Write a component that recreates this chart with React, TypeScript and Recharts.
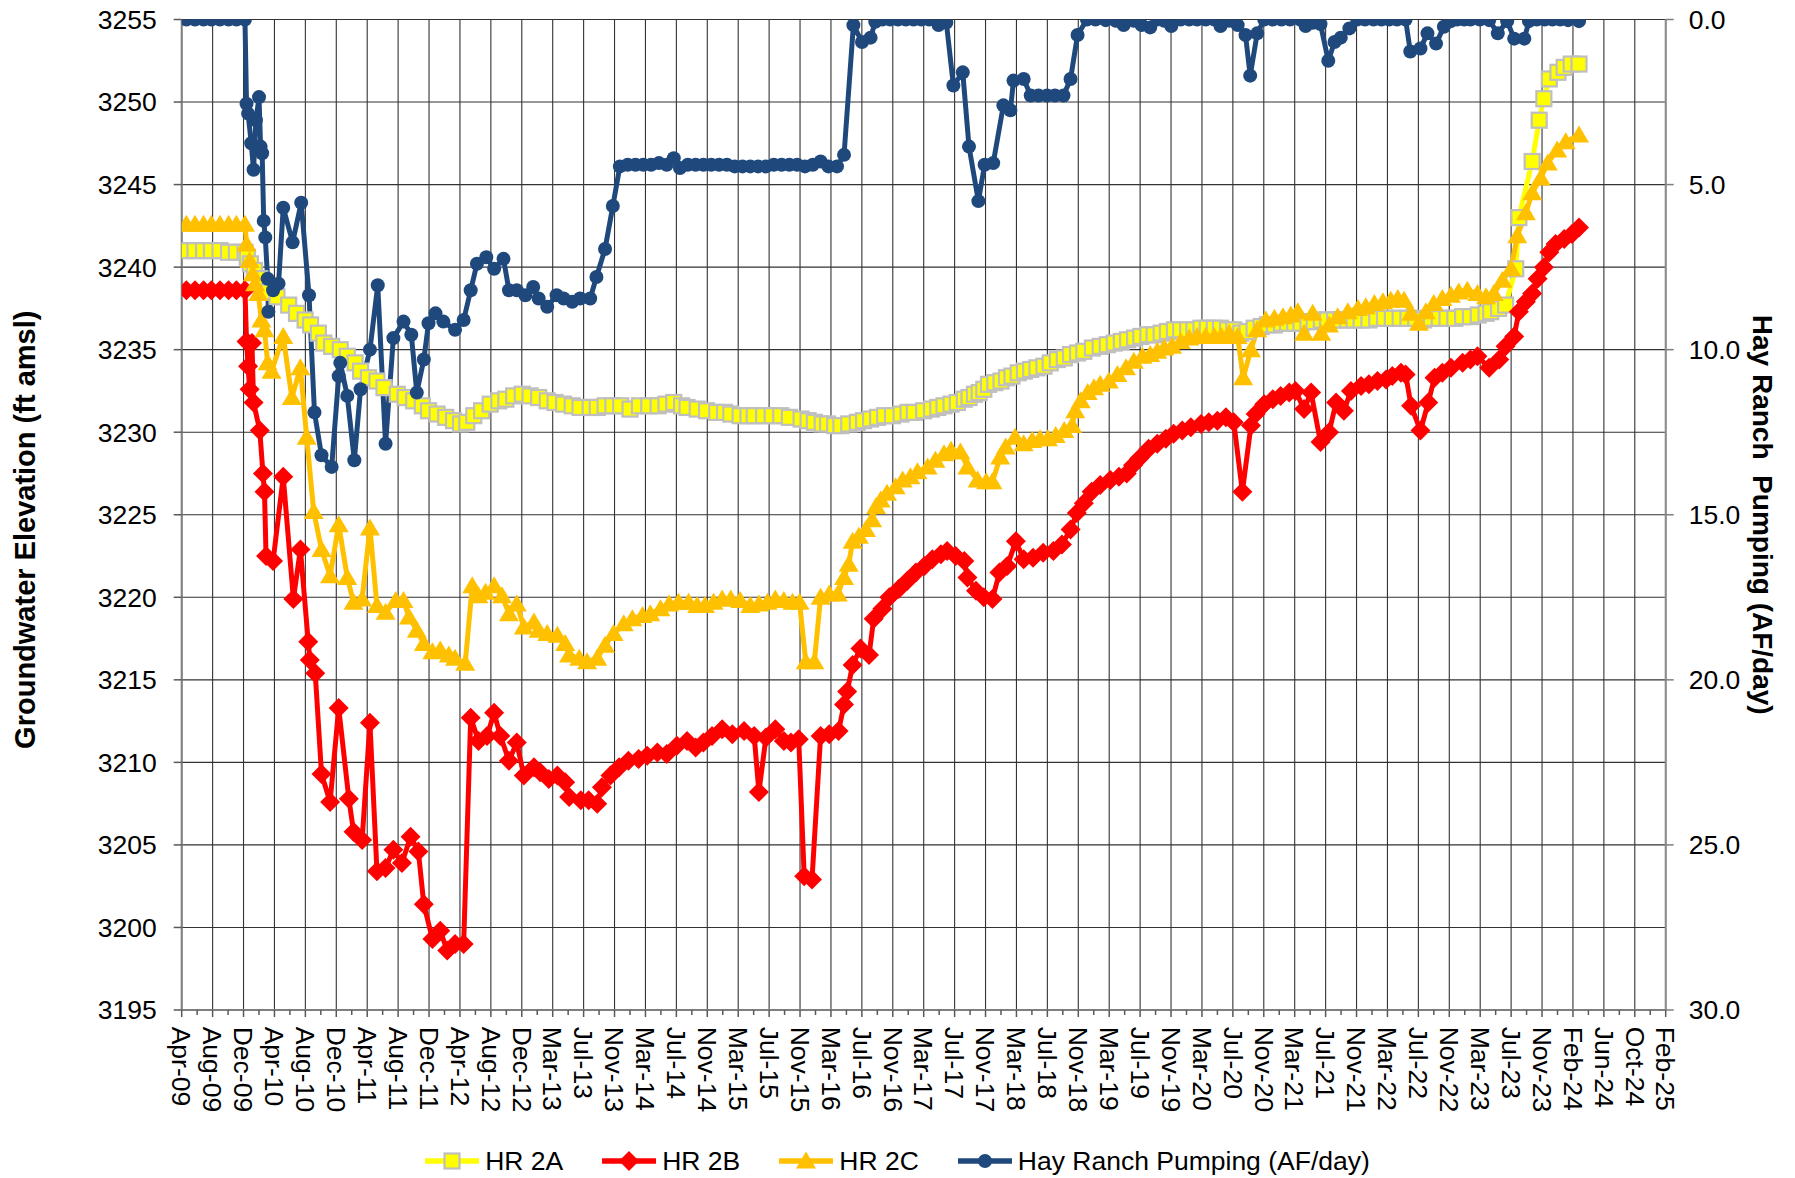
import React from "react";
import { CartesianGrid, Legend, Line, LineChart, XAxis, YAxis } from "recharts";

// x values below are months since 1 Apr 2009
const xLabels = [
  "Apr-09", "Aug-09", "Dec-09", "Apr-10", "Aug-10", "Dec-10", "Apr-11", "Aug-11", "Dec-11",
  "Apr-12", "Aug-12", "Dec-12", "Mar-13", "Jul-13", "Nov-13", "Mar-14", "Jul-14", "Nov-14",
  "Mar-15", "Jul-15", "Nov-15", "Mar-16", "Jul-16", "Nov-16", "Mar-17", "Jul-17", "Nov-17",
  "Mar-18", "Jul-18", "Nov-18", "Mar-19", "Jul-19", "Nov-19", "Mar-20", "Jul-20", "Nov-20",
  "Mar-21", "Jul-21", "Nov-21", "Mar-22", "Jul-22", "Nov-22", "Mar-23", "Jul-23", "Nov-23",
  "Feb-24", "Jun-24", "Oct-24", "Feb-25",
];
const elevTicks = [3195, 3200, 3205, 3210, 3215, 3220, 3225, 3230, 3235, 3240, 3245, 3250, 3255];
const pumpTicks = [0, 5, 10, 15, 20, 25, 30];

// [month, groundwater elevation ft amsl]
const hr2a: [number, number][] = [
  [0.6, 3241.0], [1.7, 3241.0], [2.8, 3241.0], [3.8, 3241.0], [4.9, 3241.0], [6.0, 3240.9], [7.0, 3240.9], [8.1, 3240.9],
  [8.4, 3240.6], [8.8, 3240.2], [9.3, 3239.8], [10.0, 3239.3], [10.6, 3238.8], [11.2, 3238.5], [12.2, 3238.2], [13.7, 3237.7],
  [14.7, 3237.2], [15.8, 3236.8], [16.5, 3236.5], [17.5, 3236.0], [18.2, 3235.4], [19.2, 3235.2], [20.3, 3235.0], [21.2, 3234.6],
  [22.2, 3234.2], [22.9, 3233.7], [23.9, 3233.3], [25.0, 3233.1], [25.9, 3232.7], [27.6, 3232.3], [28.6, 3232.1], [29.7, 3231.9],
  [30.8, 3231.6], [31.6, 3231.3], [32.7, 3231.1], [33.8, 3230.9], [34.8, 3230.7], [35.7, 3230.5], [36.5, 3230.6], [37.4, 3231.0],
  [38.4, 3231.3], [39.5, 3231.7], [40.6, 3231.9], [41.5, 3232.0], [42.5, 3232.2], [43.6, 3232.3], [44.6, 3232.2], [45.7, 3232.1],
  [46.8, 3231.9], [47.8, 3231.8], [48.9, 3231.7], [50.0, 3231.6], [51.0, 3231.5], [52.3, 3231.5], [53.2, 3231.5], [54.2, 3231.6],
  [55.2, 3231.6], [56.2, 3231.6], [57.4, 3231.4], [58.6, 3231.6], [59.8, 3231.6], [61.0, 3231.6], [62.0, 3231.7], [63.0, 3231.8],
  [64.0, 3231.6], [64.7, 3231.5], [66.0, 3231.4], [67.2, 3231.3], [68.5, 3231.2], [69.5, 3231.2], [70.3, 3231.1], [71.5, 3231.0],
  [72.5, 3231.0], [73.3, 3231.0], [74.5, 3231.0], [75.6, 3231.0], [76.7, 3231.0], [77.8, 3230.9], [79.3, 3230.8], [80.2, 3230.7],
  [81.0, 3230.6], [82.0, 3230.5], [82.7, 3230.5], [83.6, 3230.4], [84.4, 3230.4], [85.4, 3230.5], [86.5, 3230.6], [87.3, 3230.7],
  [88.2, 3230.8], [89.1, 3230.9], [90.0, 3231.0], [91.0, 3231.0], [92.1, 3231.1], [93.0, 3231.2], [93.8, 3231.2], [95.0, 3231.3],
  [96.0, 3231.4], [96.8, 3231.5], [97.6, 3231.6], [98.5, 3231.7], [99.3, 3231.8], [100.2, 3232.0], [100.8, 3232.1], [101.5, 3232.3],
  [102.1, 3232.4], [102.7, 3232.6], [103.3, 3232.9], [104.1, 3233.0], [104.9, 3233.1], [105.6, 3233.3], [106.3, 3233.4], [107.1, 3233.6],
  [107.9, 3233.7], [108.7, 3233.8], [109.5, 3233.9], [110.4, 3234.0], [111.2, 3234.2], [112.1, 3234.4], [113.0, 3234.5], [113.8, 3234.7],
  [114.7, 3234.8], [115.5, 3234.9], [116.6, 3235.1], [117.6, 3235.2], [118.5, 3235.3], [119.4, 3235.4], [120.3, 3235.5], [121.1, 3235.6],
  [122.0, 3235.7], [122.8, 3235.8], [123.7, 3235.9], [124.5, 3235.9], [125.4, 3236.0], [126.2, 3236.1], [127.1, 3236.2], [127.9, 3236.2],
  [128.8, 3236.2], [129.6, 3236.2], [130.5, 3236.3], [131.3, 3236.3], [132.2, 3236.3], [133.0, 3236.3], [133.9, 3236.2], [134.7, 3236.2],
  [135.6, 3236.0], [136.4, 3236.1], [137.3, 3236.3], [138.2, 3236.4], [139.0, 3236.5], [139.9, 3236.5], [140.8, 3236.6], [141.6, 3236.6],
  [142.5, 3236.6], [143.3, 3236.6], [144.2, 3236.7], [145.0, 3236.7], [145.9, 3236.8], [146.7, 3236.8], [147.6, 3236.8], [148.4, 3236.8],
  [149.3, 3236.8], [150.1, 3236.8], [151.0, 3236.8], [152.0, 3236.8], [153.0, 3236.9], [154.0, 3236.9], [155.0, 3236.9], [156.0, 3236.9],
  [157.0, 3236.9], [158.0, 3236.9], [159.0, 3236.8], [160.0, 3236.9], [161.0, 3236.9], [162.0, 3236.9], [163.0, 3236.9], [164.0, 3237.0],
  [165.0, 3237.0], [166.0, 3237.1], [167.0, 3237.2], [167.6, 3237.3], [168.6, 3237.5], [169.5, 3237.7], [170.8, 3239.9], [171.2, 3243.0],
  [172.9, 3246.4], [173.8, 3248.9], [174.4, 3250.2], [175.1, 3251.4], [176.2, 3251.8], [177.0, 3252.1], [177.9, 3252.3], [178.9, 3252.3],
];

const hr2b: [number, number][] = [
  [0.6, 3238.6], [1.7, 3238.6], [2.8, 3238.6], [3.8, 3238.6], [4.9, 3238.6], [6.0, 3238.6], [7.0, 3238.6], [8.1, 3238.6],
  [8.3, 3235.5], [8.5, 3234.0], [8.7, 3232.6], [9.0, 3235.4], [9.2, 3231.8], [10.0, 3230.1], [10.4, 3227.5], [10.6, 3226.4],
  [10.8, 3222.5], [11.7, 3222.2], [13.0, 3227.3], [14.3, 3219.9], [15.2, 3222.9], [16.2, 3217.3], [16.4, 3216.2], [17.1, 3215.4],
  [17.9, 3209.3], [19.0, 3207.6], [20.1, 3213.3], [21.4, 3207.8], [22.0, 3205.8], [23.1, 3205.3], [24.1, 3212.4], [25.0, 3203.4],
  [26.1, 3203.6], [27.1, 3204.7], [28.2, 3203.9], [29.3, 3205.5], [30.3, 3204.6], [31.0, 3201.4], [32.1, 3199.3], [33.1, 3199.8],
  [34.0, 3198.6], [35.0, 3199.0], [36.1, 3199.0], [37.0, 3212.7], [38.0, 3211.3], [39.1, 3211.6], [40.0, 3213.0], [40.8, 3211.6],
  [41.9, 3210.1], [42.9, 3211.2], [43.8, 3209.2], [45.1, 3209.7], [45.9, 3209.4], [47.0, 3209.0], [48.1, 3209.2], [49.1, 3208.8],
  [49.6, 3207.9], [51.1, 3207.7], [52.1, 3207.7], [53.2, 3207.5], [53.8, 3208.5], [54.9, 3209.2], [56.0, 3209.7], [57.2, 3210.1],
  [58.5, 3210.2], [59.6, 3210.4], [60.9, 3210.6], [62.1, 3210.5], [63.4, 3211.0], [64.7, 3211.3], [65.8, 3210.9], [66.8, 3211.2],
  [67.9, 3211.6], [69.2, 3212.0], [70.5, 3211.7], [72.0, 3211.9], [73.3, 3211.6], [73.9, 3208.2], [74.8, 3211.5], [76.0, 3212.0],
  [77.1, 3211.3], [78.0, 3211.2], [79.0, 3211.4], [79.7, 3203.1], [80.7, 3202.9], [81.8, 3211.6], [82.9, 3211.7], [84.1, 3211.9],
  [84.8, 3213.5], [85.2, 3214.3], [85.9, 3215.9], [86.9, 3216.9], [88.0, 3216.5], [88.6, 3218.7], [89.7, 3219.3], [90.6, 3220.0],
  [91.8, 3220.5], [92.9, 3221.0], [94.0, 3221.5], [95.1, 3221.9], [96.1, 3222.3], [97.2, 3222.6], [98.0, 3222.8], [99.1, 3222.5],
  [100.2, 3222.2], [100.6, 3221.2], [101.7, 3220.4], [102.7, 3220.0], [103.8, 3219.9], [104.7, 3221.5], [105.7, 3221.9], [106.8, 3223.4],
  [107.8, 3222.3], [109.0, 3222.4], [110.3, 3222.7], [111.6, 3222.8], [112.7, 3223.2], [113.8, 3224.1], [114.6, 3225.1], [115.5, 3225.7],
  [116.5, 3226.4], [117.6, 3226.8], [118.9, 3227.1], [120.0, 3227.3], [121.0, 3227.5], [121.8, 3228.0], [122.6, 3228.4], [123.8, 3229.0],
  [124.9, 3229.3], [126.0, 3229.6], [127.0, 3229.9], [128.1, 3230.1], [129.2, 3230.3], [130.5, 3230.5], [131.5, 3230.6], [132.6, 3230.7],
  [133.7, 3230.9], [134.7, 3230.6], [135.8, 3226.4], [136.9, 3230.4], [137.5, 3231.1], [138.6, 3231.7], [139.7, 3232.0], [140.7, 3232.2],
  [141.8, 3232.4], [142.6, 3232.5], [143.7, 3231.4], [144.6, 3232.4], [145.8, 3229.4], [146.9, 3230.0], [147.8, 3231.8], [148.8, 3231.3],
  [149.7, 3232.5], [151.0, 3232.8], [152.0, 3232.9], [153.1, 3233.1], [154.2, 3233.2], [155.0, 3233.4], [156.1, 3233.6], [156.7, 3233.5],
  [157.4, 3231.6], [158.6, 3230.1], [159.6, 3231.8], [160.4, 3233.3], [161.4, 3233.6], [162.5, 3233.9], [164.0, 3234.2], [165.0, 3234.4],
  [165.9, 3234.6], [167.4, 3233.9], [168.7, 3234.4], [169.5, 3235.2], [170.6, 3235.8], [171.2, 3237.3], [172.1, 3237.9], [172.9, 3238.4],
  [173.6, 3239.3], [174.4, 3240.0], [175.1, 3240.9], [175.9, 3241.4], [177.0, 3241.7], [178.0, 3242.0], [178.9, 3242.4],
];

const hr2c: [number, number][] = [
  [0.6, 3242.6], [1.7, 3242.6], [2.8, 3242.6], [3.8, 3242.6], [4.9, 3242.6], [6.0, 3242.6], [7.0, 3242.6], [8.1, 3242.6],
  [8.3, 3241.4], [8.7, 3240.4], [9.1, 3239.6], [9.4, 3239.0], [9.8, 3238.4], [10.2, 3236.8], [10.6, 3236.2], [11.0, 3234.2],
  [11.5, 3233.7], [13.0, 3235.8], [14.1, 3232.1], [15.2, 3233.9], [16.0, 3229.7], [16.9, 3225.2], [17.9, 3222.9], [19.0, 3221.3],
  [20.1, 3224.4], [21.2, 3221.2], [22.0, 3219.7], [23.1, 3219.9], [24.1, 3224.2], [25.0, 3219.5], [26.1, 3219.1], [27.4, 3219.8],
  [28.4, 3219.8], [29.1, 3218.8], [30.1, 3218.0], [31.0, 3217.2], [32.1, 3216.7], [33.1, 3216.8], [34.2, 3216.5], [35.0, 3216.3],
  [36.3, 3216.0], [37.2, 3220.7], [38.0, 3220.1], [38.9, 3220.3], [40.0, 3220.7], [41.0, 3220.1], [41.9, 3219.0], [42.9, 3219.6],
  [43.8, 3218.2], [45.1, 3218.5], [45.7, 3218.0], [46.8, 3217.8], [48.1, 3217.7], [49.1, 3217.2], [49.6, 3216.5], [50.9, 3216.3],
  [51.9, 3216.1], [53.2, 3216.3], [54.2, 3217.1], [55.3, 3217.8], [56.6, 3218.4], [57.7, 3218.7], [59.0, 3218.9], [60.0, 3219.0],
  [61.3, 3219.3], [62.4, 3219.6], [63.6, 3219.7], [64.9, 3219.7], [66.0, 3219.5], [67.0, 3219.5], [68.1, 3219.7], [69.2, 3219.9],
  [70.3, 3219.9], [71.5, 3219.8], [72.8, 3219.5], [73.9, 3219.6], [75.0, 3219.7], [76.0, 3219.9], [77.1, 3219.8], [78.2, 3219.7],
  [79.1, 3219.7], [79.9, 3216.1], [81.0, 3216.1], [81.8, 3220.0], [82.9, 3220.2], [84.0, 3220.2], [84.8, 3221.2], [85.4, 3222.0],
  [85.9, 3223.4], [86.7, 3223.7], [87.6, 3224.1], [88.4, 3224.7], [88.9, 3225.5], [89.5, 3225.9], [90.3, 3226.3], [91.4, 3226.7],
  [92.3, 3227.1], [93.3, 3227.3], [94.2, 3227.6], [95.5, 3227.9], [96.5, 3228.3], [97.6, 3228.7], [98.5, 3228.9], [99.7, 3228.8],
  [100.6, 3227.9], [101.9, 3227.1], [103.0, 3227.0], [103.8, 3227.0], [104.8, 3228.5], [105.5, 3229.1], [106.7, 3229.7], [107.8, 3229.3],
  [108.9, 3229.5], [109.9, 3229.6], [110.9, 3229.6], [111.9, 3229.8], [113.0, 3230.1], [114.0, 3230.4], [114.4, 3231.3], [115.1, 3231.9],
  [116.0, 3232.4], [116.8, 3232.7], [117.6, 3232.9], [118.7, 3233.1], [119.8, 3233.5], [120.9, 3233.9], [121.9, 3234.3], [123.0, 3234.6],
  [124.0, 3234.7], [124.9, 3234.9], [125.8, 3235.1], [126.8, 3235.2], [127.9, 3235.5], [129.0, 3235.7], [130.0, 3235.8], [131.1, 3235.8],
  [132.2, 3235.8], [133.1, 3235.8], [134.1, 3236.0], [135.2, 3235.8], [135.9, 3233.3], [136.9, 3235.0], [137.7, 3236.2], [138.8, 3236.8],
  [139.9, 3236.9], [141.0, 3237.0], [142.0, 3237.1], [142.9, 3237.3], [143.7, 3236.0], [144.8, 3237.2], [145.9, 3236.0], [146.9, 3236.5],
  [148.0, 3237.0], [149.3, 3237.3], [150.6, 3237.5], [151.6, 3237.6], [152.7, 3237.8], [153.8, 3237.9], [154.8, 3238.0], [155.7, 3238.1],
  [156.5, 3238.0], [157.4, 3237.2], [158.4, 3236.6], [159.3, 3237.3], [160.3, 3237.8], [161.4, 3238.1], [162.5, 3238.3], [163.5, 3238.5],
  [164.6, 3238.6], [165.9, 3238.4], [167.0, 3238.2], [168.0, 3238.4], [169.1, 3239.2], [170.2, 3239.9], [171.0, 3241.9], [172.1, 3243.3],
  [172.9, 3244.5], [174.0, 3245.4], [174.9, 3246.3], [176.1, 3247.1], [177.2, 3247.6], [178.9, 3248.0],
];

// [month, Hay Ranch pumping AF/day]
const pumping: [number, number][] = [
  [0.6, 0], [1.7, 0], [2.8, 0], [3.8, 0], [4.9, 0], [6.0, 0], [7.0, 0], [8.1, 0],
  [8.3, 2.55], [8.5, 2.85], [8.9, 3.75], [9.2, 4.55], [9.5, 3.05], [9.9, 2.35], [10.1, 3.85], [10.3, 4.05],
  [10.5, 6.1], [10.7, 6.6], [11.0, 7.85], [11.1, 8.85], [11.7, 8.2], [12.4, 8.0], [13.0, 5.7], [14.2, 6.75],
  [15.3, 5.55], [16.3, 8.35], [17.0, 11.9], [17.9, 13.2], [19.2, 13.55], [20.1, 10.8], [20.3, 10.4], [21.2, 11.4],
  [22.1, 13.35], [22.9, 11.2], [24.1, 10.0], [25.1, 8.05], [26.1, 12.85], [27.1, 9.65], [28.4, 9.15], [29.4, 9.55],
  [30.1, 11.3], [31.0, 10.3], [31.6, 9.2], [32.5, 8.9], [33.5, 9.15], [35.0, 9.4], [36.1, 9.1], [37.0, 8.2],
  [37.8, 7.4], [39.0, 7.2], [40.0, 7.55], [41.2, 7.25], [41.9, 8.2], [42.9, 8.2], [44.0, 8.35], [45.0, 8.1],
  [45.7, 8.45], [46.8, 8.7], [48.0, 8.35], [48.9, 8.45], [50.0, 8.55], [51.0, 8.45], [52.3, 8.45], [53.1, 7.8],
  [54.2, 6.95], [55.2, 5.65], [56.1, 4.45], [57.1, 4.4], [58.1, 4.4], [59.1, 4.4], [60.1, 4.4], [61.1, 4.35],
  [62.1, 4.4], [63.0, 4.2], [63.8, 4.5], [64.8, 4.4], [65.8, 4.4], [66.8, 4.4], [67.8, 4.4], [68.8, 4.4],
  [69.8, 4.4], [70.8, 4.45], [71.8, 4.45], [72.8, 4.45], [73.8, 4.45], [74.8, 4.45], [75.8, 4.4], [76.8, 4.4],
  [77.8, 4.4], [78.8, 4.4], [79.8, 4.45], [80.8, 4.4], [81.8, 4.3], [82.8, 4.45], [83.9, 4.45], [84.8, 4.1],
  [86.0, 0.17], [87.1, 0.68], [88.2, 0.55], [88.8, 0.07], [89.7, 0], [90.7, 0], [91.7, 0], [92.7, 0],
  [93.7, 0], [94.7, 0], [95.7, 0], [96.9, 0.17], [97.9, 0.09], [98.8, 2.0], [100.0, 1.6], [100.8, 3.85],
  [102.0, 5.5], [102.8, 4.4], [103.9, 4.35], [105.2, 2.6], [106.1, 2.75], [106.5, 1.85], [107.8, 1.8], [108.7, 2.3],
  [109.7, 2.3], [110.8, 2.3], [111.8, 2.3], [112.9, 2.3], [113.8, 1.8], [114.7, 0.47], [115.9, 0], [117.0, 0],
  [118.3, 0.02], [119.6, 0.04], [120.6, 0.17], [121.9, 0.04], [122.9, 0.17], [124.0, 0.24], [124.9, 0], [125.8, 0.04],
  [126.7, 0.2], [127.9, 0], [129.0, 0], [130.0, 0], [131.1, 0], [132.2, 0], [133.0, 0.2], [134.1, 0.04],
  [135.2, 0.17], [136.2, 0.47], [136.8, 1.7], [137.7, 0.42], [138.6, 0], [139.7, 0], [140.8, 0], [141.9, 0],
  [143.2, 0], [143.9, 0.2], [144.8, 0.1], [145.8, 0.14], [146.8, 1.25], [147.6, 0.68], [148.4, 0.55], [149.5, 0.27],
  [150.5, 0], [151.5, 0], [152.6, 0], [153.6, 0], [154.6, 0], [155.6, 0], [156.7, 0], [157.3, 0.97],
  [158.6, 0.88], [159.5, 0.42], [160.6, 0.73], [161.6, 0.22], [162.5, 0.05], [163.3, 0], [164.2, 0], [165.0, 0],
  [166.2, 0], [167.4, 0.02], [168.5, 0.42], [169.7, 0.05], [170.6, 0.58], [171.9, 0.58], [172.5, 0.05], [173.5, 0],
  [174.5, 0], [175.5, 0], [176.5, 0], [177.5, 0.02], [178.9, 0.05],
];

const W = 1795;
const H = 1178;
const LEFT_W = 181.7;
const RIGHT_W = 129.3;
const TOP = 19.5;
const PLOT_BOTTOM = 1010;
const FONT = "'Liberation Sans', Arial, Helvetica, sans-serif";
const TICK_FONT = 26.5;

const SPAN = 190; // Apr-09 .. Feb-25 in months
const STEP = SPAN / (xLabels.length - 1);
const xTicks = xLabels.map((_, i) => i * STEP);

const toRows = (pts: [number, number][]) => pts.map(([t, v]) => ({ t, v }));

const YELLOW = "#FFFF00";
const RED = "#FF0000";
const ORANGE = "#FFC000";
const NAVY = "#1F497D";
const LINE_W = 5;

function SquareMark({ cx, cy }: { cx: number; cy: number }) {
  return <rect x={cx - 7.5} y={cy - 7.5} width={15} height={15} fill={YELLOW} stroke="#BFBFBF" strokeWidth={2.2} />;
}
function DiamondMark({ cx, cy }: { cx: number; cy: number }) {
  return <polygon points={`${cx},${cy - 10} ${cx + 10},${cy} ${cx},${cy + 10} ${cx - 10},${cy}`} fill={RED} />;
}
function TriangleMark({ cx, cy }: { cx: number; cy: number }) {
  return <polygon points={`${cx},${cy - 9.5} ${cx + 10},${cy + 7.5} ${cx - 10},${cy + 7.5}`} fill={ORANGE} />;
}
function CircleMark({ cx, cy }: { cx: number; cy: number }) {
  return <circle cx={cx} cy={cy} r={7} fill={NAVY} />;
}

const makeDot = (Mark: any, tag: string) => (p: any) =>
  p.cx == null || p.cy == null ? (
    <g key={`${tag}${p.index}`} />
  ) : (
    <Mark key={`${tag}${p.index}`} cx={p.cx} cy={p.cy} />
  );

const series = [
  { name: "HR 2A", color: YELLOW, Mark: SquareMark },
  { name: "HR 2B", color: RED, Mark: DiamondMark },
  { name: "HR 2C", color: ORANGE, Mark: TriangleMark },
  { name: "Hay Ranch Pumping (AF/day)", color: NAVY, Mark: CircleMark },
];

function DateTick({ x, payload }: any) {
  const i = Math.round(payload.value / STEP);
  const half = (W - LEFT_W - RIGHT_W) / (xLabels.length - 1) / 2;
  const ty = PLOT_BOTTOM + 16.7;
  return (
    <g>
      <line x1={x} x2={x} y1={PLOT_BOTTOM} y2={PLOT_BOTTOM + 7} stroke="#595959" strokeWidth={1.5} />
      {i < xLabels.length - 1 && (
        <line x1={x + half} x2={x + half} y1={PLOT_BOTTOM} y2={PLOT_BOTTOM + 5} stroke="#595959" strokeWidth={1.5} />
      )}
      <text
        x={x}
        y={ty}
        dy="0.35em"
        transform={`rotate(90, ${x}, ${ty})`}
        textAnchor="start"
        fontSize={TICK_FONT}
        fontFamily={FONT}
        fill="#000"
      >
        {xLabels[i]}
      </text>
    </g>
  );
}

function LeftTitle(props: any) {
  const vb = props.viewBox;
  const x = vb.x + 25;
  const y = vb.y + vb.height / 2 + 15;
  return (
    <text x={x} y={y} dy="0.35em" transform={`rotate(-90, ${x}, ${y})`} textAnchor="middle" fontSize={29} fontWeight="bold" fontFamily={FONT} fill="#000">
      Groundwater Elevation (ft amsl)
    </text>
  );
}

function RightTitle(props: any) {
  const vb = props.viewBox;
  const x = vb.x + 97.3;
  const y = vb.y + vb.height / 2;
  return (
    <text x={x} y={y} dy="0.35em" transform={`rotate(90, ${x}, ${y})`} textAnchor="middle" fontSize={28} fontWeight="bold" fontFamily={FONT} fill="#000" style={{ whiteSpace: "pre" }}>
      {"Hay Ranch\u00a0 Pumping (AF/day)"}
    </text>
  );
}

function LegendRow() {
  return (
    <div
      style={{
        display: "flex",
        justifyContent: "center",
        alignItems: "center",
        gap: 39,
        height: 36,
        fontFamily: FONT,
        fontSize: TICK_FONT,
        color: "#000",
      }}
    >
      {series.map(({ name, color, Mark }) => (
        <div key={name} style={{ display: "flex", alignItems: "center" }}>
          <svg width={54} height={24}>
            <line x1={0} x2={54} y1={12} y2={12} stroke={color} strokeWidth={5.5} />
            <Mark cx={27} cy={12} />
          </svg>
          <span style={{ marginLeft: 6, whiteSpace: "nowrap" }}>{name}</span>
        </div>
      ))}
    </div>
  );
}

export default function App() {
  const axisTick = { fontSize: TICK_FONT, fontFamily: FONT, fill: "#000" };
  return (
    <div style={{ position: "absolute", left: 0, top: 0, width: W, height: H, background: "#fff" }}>
      <LineChart width={W} height={H} margin={{ top: TOP, right: 0, bottom: 0, left: 0 }}>
        <CartesianGrid yAxisId="left" stroke="#333333" strokeWidth={1.1} />
        <XAxis
          dataKey="t"
          type="number"
          domain={[0, SPAN]}
          ticks={xTicks}
          interval={0}
          allowDataOverflow
          height={H - PLOT_BOTTOM}
          tickLine={false}
          axisLine={{ stroke: "#7f7f7f", strokeWidth: 2 }}
          tick={<DateTick />}
        />
        <YAxis
          yAxisId="left"
          type="number"
          domain={[3195, 3255]}
          ticks={elevTicks}
          interval={0}
          allowDataOverflow
          width={LEFT_W}
          tickSize={8}
          tickMargin={17}
          tickLine={{ stroke: "#595959", strokeWidth: 1.5 }}
          axisLine={{ stroke: "#7f7f7f", strokeWidth: 2 }}
          tick={axisTick}
          label={(p: any) => <LeftTitle {...p} />}
        />
        <YAxis
          yAxisId="right"
          orientation="right"
          type="number"
          reversed
          domain={[0, 30]}
          ticks={pumpTicks}
          interval={0}
          allowDataOverflow
          width={RIGHT_W}
          tickSize={8}
          tickMargin={15}
          tickFormatter={(v: number) => v.toFixed(1)}
          tickLine={{ stroke: "#7f7f7f", strokeWidth: 1.5 }}
          axisLine={{ stroke: "#8c8c8c", strokeWidth: 2 }}
          tick={axisTick}
          label={(p: any) => <RightTitle {...p} />}
        />
        <Line
          yAxisId="left"
          data={toRows(hr2a)}
          dataKey="v"
          name="HR 2A"
          stroke={YELLOW}
          strokeWidth={LINE_W}
          strokeLinejoin="round"
          dot={makeDot(SquareMark, "a")}
          activeDot={false}
          isAnimationActive={false}
        />
        <Line
          yAxisId="left"
          data={toRows(hr2b)}
          dataKey="v"
          name="HR 2B"
          stroke={RED}
          strokeWidth={LINE_W}
          strokeLinejoin="round"
          dot={makeDot(DiamondMark, "b")}
          activeDot={false}
          isAnimationActive={false}
        />
        <Line
          yAxisId="left"
          data={toRows(hr2c)}
          dataKey="v"
          name="HR 2C"
          stroke={ORANGE}
          strokeWidth={LINE_W}
          strokeLinejoin="round"
          dot={makeDot(TriangleMark, "c")}
          activeDot={false}
          isAnimationActive={false}
        />
        <Line
          yAxisId="right"
          data={toRows(pumping)}
          dataKey="v"
          name="Hay Ranch Pumping (AF/day)"
          stroke={NAVY}
          strokeWidth={LINE_W}
          strokeLinejoin="round"
          dot={makeDot(CircleMark, "p")}
          activeDot={false}
          isAnimationActive={false}
        />
        <Legend
          layout="horizontal"
          verticalAlign="middle"
          align="center"
          wrapperStyle={{ top: 1143, left: 0, width: W, height: 36 }}
          content={() => <LegendRow />}
        />
      </LineChart>
    </div>
  );
}
